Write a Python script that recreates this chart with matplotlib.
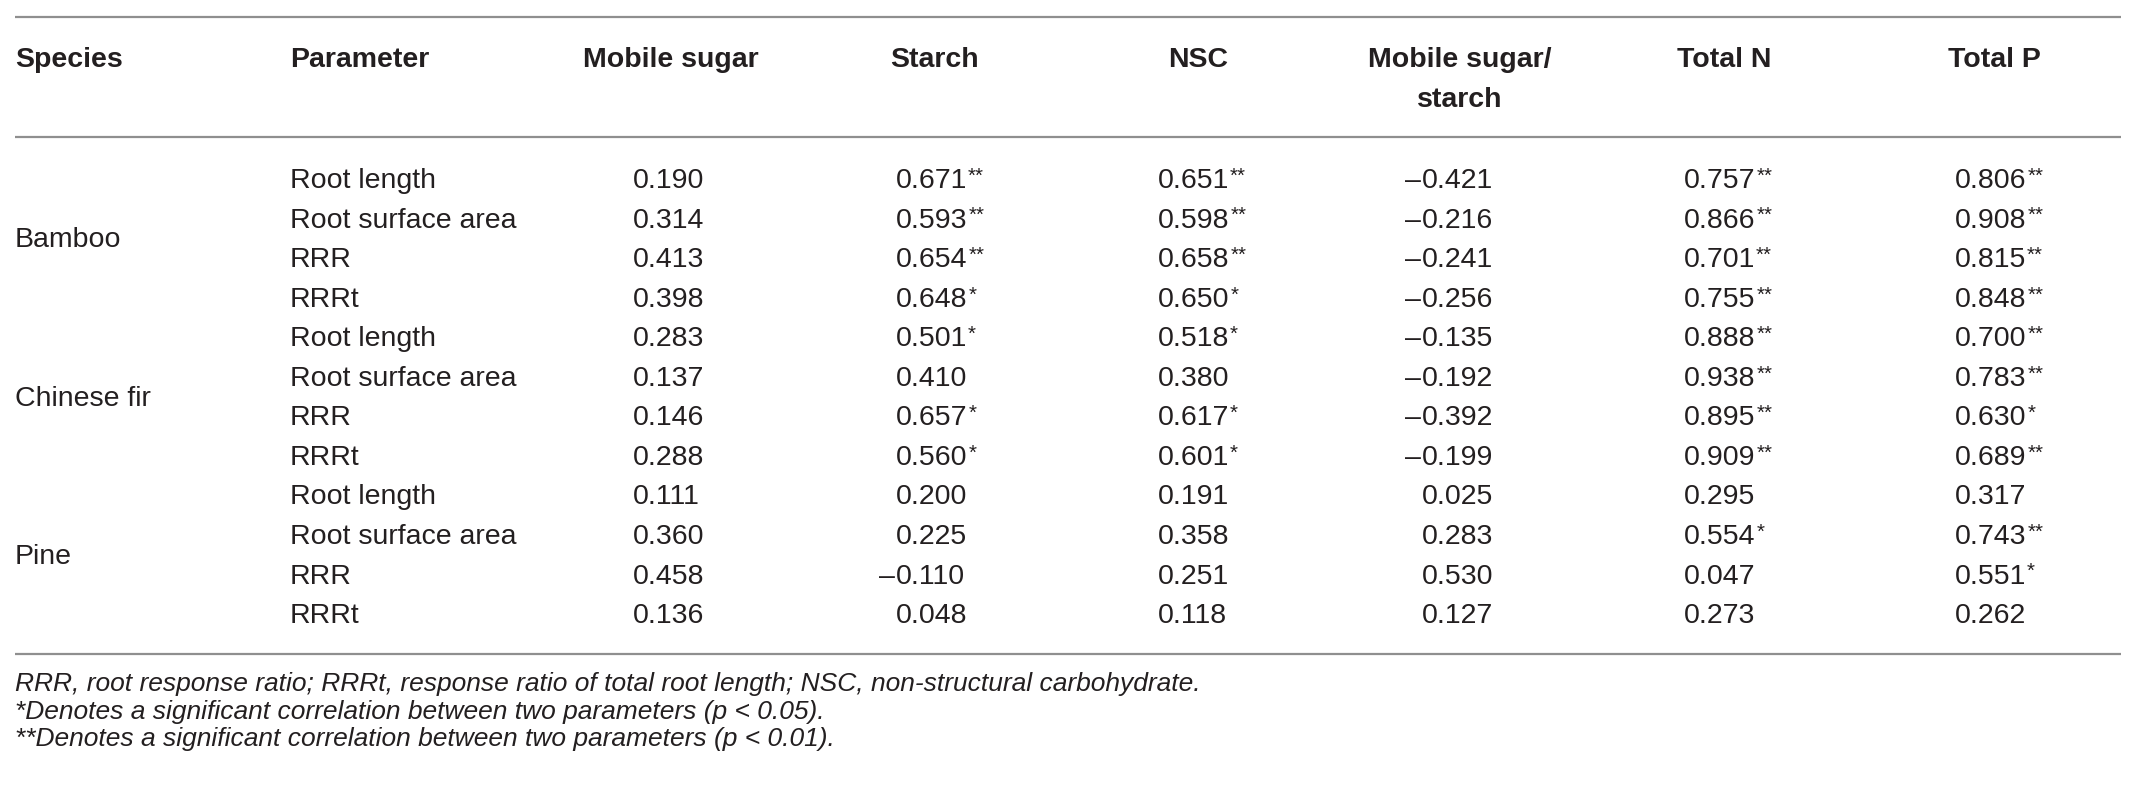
import matplotlib
matplotlib.use("Agg")
import matplotlib.pyplot as plt

# Table content
species = ["Bamboo", "Chinese fir", "Pine"]
parameters = ["Root length", "Root surface area", "RRR", "RRRt"]
headers = ["Mobile sugar", "Starch", "NSC", "Mobile sugar/\nstarch", "Total N", "Total P"]

mobile_sugar = [0.190, 0.314, 0.413, 0.398, 0.283, 0.137, 0.146, 0.288, 0.111, 0.360, 0.458, 0.136]
starch = [0.671, 0.593, 0.654, 0.648, 0.501, 0.410, 0.657, 0.560, 0.200, 0.225, -0.110, 0.048]
nsc = [0.651, 0.598, 0.658, 0.650, 0.518, 0.380, 0.617, 0.601, 0.191, 0.358, 0.251, 0.118]
sugar_starch = [-0.421, -0.216, -0.241, -0.256, -0.135, -0.192, -0.392, -0.199, 0.025, 0.283, 0.530, 0.127]
total_n = [0.757, 0.866, 0.701, 0.755, 0.888, 0.938, 0.895, 0.909, 0.295, 0.554, 0.047, 0.273]
total_p = [0.806, 0.908, 0.815, 0.848, 0.700, 0.783, 0.630, 0.689, 0.317, 0.743, 0.551, 0.262]

mobile_sugar_sig = [""] * 12
starch_sig = ["**", "**", "**", "*", "*", "", "*", "*", "", "", "", ""]
nsc_sig = ["**", "**", "**", "*", "*", "", "*", "*", "", "", "", ""]
sugar_starch_sig = [""] * 12
total_n_sig = ["**", "**", "**", "**", "**", "**", "**", "**", "", "*", "", ""]
total_p_sig = ["**", "**", "**", "**", "**", "**", "*", "**", "", "**", "*", ""]

footnotes = [
    "RRR, root response ratio; RRRt, response ratio of total root length; NSC, non-structural carbohydrate.",
    "*Denotes a significant correlation between two parameters (p < 0.05).",
    "**Denotes a significant correlation between two parameters (p < 0.01).",
]

columns = [
    (mobile_sugar, mobile_sugar_sig),
    (starch, starch_sig),
    (nsc, nsc_sig),
    (sugar_starch, sugar_starch_sig),
    (total_n, total_n_sig),
    (total_p, total_p_sig),
]

# Layout (pixel space of the 2138x795 output)
W, H = 2138, 795
FONT = "Liberation Sans"
TXT = "#231f20"
LINE = "#8f8f8f"
FS = 20.5
FS_NOTE = 19

header_x = [671, 934, 1198, 1460, 1724, 1994]
digit_x = [633, 896, 1158, 1422, 1684, 1955]
species_x = 15
param_x = 290
row_base0 = 188
row_step = 39.55
x_left, x_right = 15, 2121

plt.rcParams["font.family"] = [FONT, "DejaVu Sans"]

fig = plt.figure(figsize=(W / 100, H / 100), dpi=100)
ax = fig.add_axes([0, 0, 1, 1])
ax.set_xlim(0, W)
ax.set_ylim(H, 0)
ax.set_axis_off()

# rules
for y in (16.5, 137, 654):
    ax.plot([x_left, x_right], [y, y], color=LINE, lw=1.6, solid_capstyle="butt")

# header
hb = 67
ax.text(species_x, hb, "Species", fontsize=FS, fontweight="bold", color=TXT, va="baseline", ha="left")
ax.text(param_x, hb, "Parameter", fontsize=FS, fontweight="bold", color=TXT, va="baseline", ha="left")
for hx, h in zip(header_x, headers):
    for k, part in enumerate(h.split("\n")):
        ax.text(hx, hb + 40 * k, part, fontsize=FS, fontweight="bold", color=TXT,
                va="baseline", ha="center")

# body
n_rows = len(species) * len(parameters)
for i in range(n_rows):
    yb = row_base0 + i * row_step
    ax.text(param_x, yb, parameters[i % len(parameters)], fontsize=FS, color=TXT,
            va="baseline", ha="left")
    for cx, (vals, sig) in zip(digit_x, columns):
        v = vals[i]
        t = ax.text(cx, yb, f"{abs(v):.3f}", fontsize=FS, color=TXT, va="baseline", ha="left")
        if v < 0:
            ax.text(cx - 1, yb, "\u2013", fontsize=FS, color=TXT, va="baseline", ha="right")
        if sig[i]:
            ax.annotate(sig[i], xy=(1, yb), xycoords=(t, "data"), xytext=(0.5, 4.5),
                        textcoords="offset points", fontsize=FS * 0.72, color=TXT,
                        va="baseline", ha="left")

for g, name in enumerate(species):
    yb = row_base0 + (g * len(parameters) + (len(parameters) - 1) / 2) * row_step
    ax.text(species_x, yb, name, fontsize=FS, color=TXT, va="baseline", ha="left")

# footnotes
for k, note in enumerate(footnotes):
    ax.text(species_x, 691 + k * 27.5, note, fontsize=FS_NOTE, style="italic", color=TXT,
            va="baseline", ha="left")

fig.savefig("out.png", dpi=100)
